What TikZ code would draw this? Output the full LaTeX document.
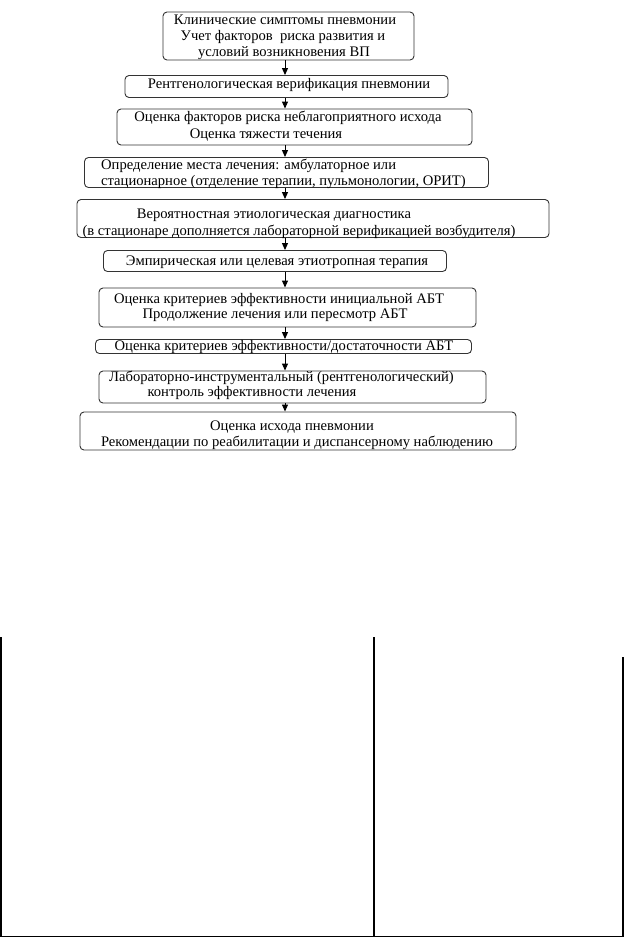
\documentclass[tikz,border=0pt]{standalone}
\usepackage{fontspec}
\setmainfont{Liberation Serif}
\usetikzlibrary{arrows.meta}
\begin{document}
\begin{tikzpicture}[x=1pt,y=-1pt,
  box/.style={draw=black!80,line width=0.9pt,rounded corners=4pt,inner sep=0pt},
  txt/.style={inner sep=0pt,font=\fontsize{14.6}{16}\selectfont,anchor=center},
  flow/.style={line width=1pt,-{Triangle[width=6pt,length=7pt]}},
  rule/.style={line width=1.4pt}]
\useasboundingbox (0,0) rectangle (624,938);
\fill[white] (0,0) rectangle (624,938);
% boxes
\node[box,minimum width=251pt,minimum height=48pt] (b1) at (288.5,36) {};
\node[box,minimum width=323pt,minimum height=22pt] (b2) at (286.5,86.5) {};
\node[box,minimum width=355pt,minimum height=36pt] (b3) at (294.5,127) {};
\node[box,minimum width=404pt,minimum height=30pt] (b4) at (286.5,172.5) {};
\node[box,minimum width=472pt,minimum height=38pt] (b5) at (313,218.5) {};
\node[box,minimum width=343pt,minimum height=21pt] (b6) at (275,261) {};
\node[box,minimum width=377pt,minimum height=39pt] (b7) at (287.5,307.5) {};
\node[box,minimum width=376pt,minimum height=14pt] (b8) at (283.5,346.5) {};
\node[box,minimum width=387pt,minimum height=32pt] (b9) at (292.5,387) {};
\node[box,minimum width=436pt,minimum height=38pt] (b10) at (298,431) {};
% texts
\node[txt] (t1a) at (285,20) {Клинические симптомы пневмонии};
\node[txt] (t1b) at (283,37) {Учет факторов\ \ риска развития и};
\node[txt] (t1c) at (284,53) {условий возникновения ВП};
\node[txt] (t2) at (289,85) {Рентгенологическая верификация пневмонии};
\node[txt] (t3a) at (288,118) {Оценка факторов риска неблагоприятного исхода};
\node[txt] (t3b) at (266,135) {Оценка тяжести течения};
\node[txt,anchor=west] (t4a) at (101,166) {Определение места лечения: амбулаторное или};
\node[txt,anchor=west] (t4b) at (101,182) {стационарное (отделение терапии, пульмонологии, ОРИТ)};
\node[txt] (t5a) at (274,215) {Вероятностная этиологическая диагностика};
\node[txt] (t5b) at (299,232) {(в стационаре дополняется лабораторной верификацией возбудителя)};
\node[txt] (t6) at (277,262) {Эмпирическая или целевая этиотропная терапия};
\node[txt] (t7a) at (279,300) {Оценка критериев эффективности инициальной АБТ};
\node[txt] (t7b) at (275,315) {Продолжение лечения или пересмотр АБТ};
\node[txt] (t8) at (284,347) {Оценка критериев эффективности/достаточности АБТ};
\node[txt] (t9a) at (281.5,378) {Лабораторно-инструментальный (рентгенологический)};
\node[txt] (t9b) at (252,393) {контроль эффективности лечения};
\node[txt] (t10a) at (292,427) {Оценка исхода пневмонии};
\node[txt] (t10b) at (297,443) {Рекомендации по реабилитации и диспансерному наблюдению};
% arrows
\coordinate (ax) at (285,0);
\draw[flow] (b1.south -| ax) -- (b2.north -| ax);
\draw[flow] (b2.south -| ax) -- (b3.north -| ax);
\draw[flow] (b3.south -| ax) -- (b4.north -| ax);
\draw[flow] (b4.south -| ax) -- (b5.north -| ax);
\draw[flow] (b5.south -| ax) -- (b6.north -| ax);
\draw[flow] (b6.south -| ax) -- (b7.north -| ax);
\draw[flow] (b7.south -| ax) -- (b8.north -| ax);
\draw[flow] (b8.south -| ax) -- (b9.north -| ax);
\draw[flow] (b9.south -| ax) -- (b10.north -| ax);
% table lines
\coordinate (l1) at (1,637);
\coordinate (l2) at (1,936.5);
\coordinate (m1) at (374,637);
\coordinate (m2) at (374,936.5);
\coordinate (r1) at (622.8,657);
\coordinate (r2) at (622.8,936.5);
\draw[rule] (l1) -- (l2);
\draw[rule] (m1) -- (m2);
\draw[rule] (r1) -- (r2);
\draw[rule] (0,936.5) -- (624,936.5);
\end{tikzpicture}
\end{document}
